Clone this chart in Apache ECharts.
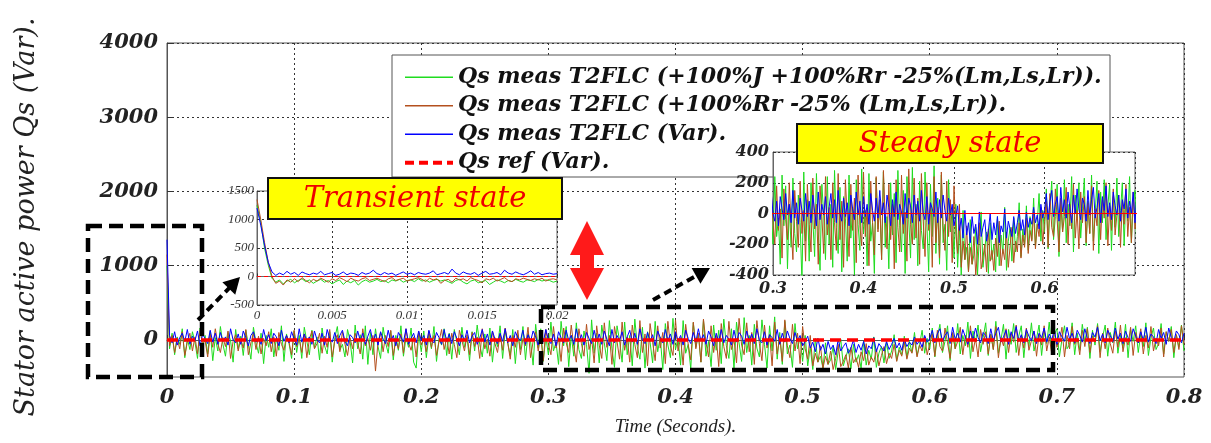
<!DOCTYPE html>
<html><head><meta charset="utf-8">
<script src="https://cdn.jsdelivr.net/npm/echarts@6/dist/echarts.min.js"></script>
<style>html,body{margin:0;padding:0;background:#fff}#c{width:1211px;height:443px}</style>
</head><body><div id="c"></div>
<script>
// ---------- DATA ----------
const MAIN_STEP = 0.002;   // seconds between samples of the main traces
const blueMain = [1350,
 60,-40,110,-70,30,90,-20,140,-60,50,-10,120,-80,70,20,-50,130,-30,90,-60,
 100,-20,40,-70,150,0,-40,80,-60,120,30,-80,60,110,-30,20,-60,140,-10,70,
 -50,90,40,-80,130,-20,60,-40,110,10,-70,150,-30,80,-10,40,-60,120,0,-40,
 90,-70,140,20,-30,100,-50,60,130,-20,-80,70,30,-40,120,-10,90,-60,50,140,
 -30,80,-70,110,10,-50,130,-20,60,-80,100,40,-30,150,-60,20,90,-40,120,-10,
 60,-70,130,0,-40,100,30,-60,140,-20,80,-50,110,20,-80,70,-10,130,-40,50,
 100,-60,20,140,-30,80,-70,120,10,-50,90,-20,150,-40,60,-80,110,30,-10,130,
 -60,70,-20,120,40,-70,100,-30,140,0,-50,80,-80,110,30,-40,130,-10,60,-60,
 150,-30,70,-70,100,20,-50,130,-20,80,-60,120,10,-80,140,-40,60,-10,110,-70,
 40,130,-30,90,-60,150,0,-50,100,-20,70,-80,120,30,-40,140,-10,80,-60,110,
 -20,60,-70,130,20,-50,100,-30,150,-10,70,-60,120,40,-80,90,-20,140,-40,60,
 10,-70,130,-30,100,50,-60,120,-10,80,-50,150,0,-40,110,-70,70,30,-20,140,
 -60,90,-30,120,20,-50,100,-10,60,-80,-20,50,-110,-30,-160,20,-140,-60,-190,-20,
 -130,-70,-200,10,-150,-90,-40,-180,-110,0,-170,-60,-140,-20,-190,-80,-120,30,-160,-50,
 -100,-150,-20,-130,-60,20,-110,-40,-140,10,-90,-30,-70,40,-60,-10,-100,60,-30,20,
 130,-40,80,150,-20,60,110,-50,170,10,90,-30,140,40,-60,120,0,160,30,-40,
 100,60,-50,150,-10,90,170,-30,40,130,-60,110,20,180,-20,70,-40,140,50,-10,
 120,-50,90,30,160,-30,80,0,140,-60,110,40,-20,170,10,90,-40,130,60,-30,
 150,20,-50,100,40,170,-10,80,-40,130,60,-30,160,10,90,-50,120,30,-20,150,
 50,-40,110,0,170,-30,80,40,-50,140,20,100,-60,160,30,-20,120,70,-40,90];
const brownMain = [1150,
 -80,60,-170,20,-120,110,-210,-30,90,-150,40,-190,130,-60,-10,-230,80,-100,150,-50,
 -170,30,-90,120,-250,-20,70,-150,10,-110,140,-200,-40,90,-130,50,-190,20,-80,110,
 -160,40,-220,100,-60,-140,60,-30,-200,130,-90,20,-170,80,-240,10,120,-120,-50,90,
 -180,50,-100,140,-230,-10,70,-160,110,-60,-210,30,-120,90,-40,-190,150,-80,20,-140,
 60,-420,-30,100,-160,60,-90,130,-210,0,-120,80,-180,150,-40,-140,40,-230,110,-70,
 20,-160,120,-100,60,-210,-20,140,-130,30,-190,90,-60,-240,130,-10,-150,70,-200,100,
 -90,40,-250,150,-120,10,-220,120,-50,-170,80,-140,160,-30,-260,60,-100,130,-200,20,
 -80,170,-240,-20,110,-150,50,-280,140,-60,-200,180,-110,30,-290,160,-40,-170,200,-90,
 -300,150,-50,-220,210,-130,20,-310,190,-70,-250,230,-100,60,-330,180,-20,-260,240,-140,
 40,-300,200,-60,-240,260,-170,80,-350,220,-30,-280,190,-110,100,-320,250,-80,-210,270,
 -150,30,-340,210,-60,-270,240,-120,90,-300,280,-40,-230,190,-170,60,-360,220,-90,-250,
 250,-130,10,-310,290,-70,-200,230,-160,100,-330,260,-50,-280,200,-110,70,-350,240,-190,
 40,-290,270,-80,-240,210,-150,90,-320,180,-120,-260,60,-350,-180,-300,-80,-380,-220,-330,
 -150,-400,-250,-60,-360,-290,-200,-380,-100,-310,-240,-370,-160,-280,-50,-340,-230,-300,-120,-350,
 -210,-90,-320,-180,-250,-60,-290,-140,-220,-30,-260,-110,-180,10,-230,-70,-150,40,-200,-50,
 80,-220,130,-90,-150,160,-40,-250,100,-120,-20,170,-200,60,-100,190,-160,20,-230,140,
 -60,110,-190,70,-130,180,-240,30,-80,150,-170,90,-30,200,-210,50,-110,160,-140,-10,
 120,-220,80,-70,190,-150,40,-190,140,-100,-20,170,-230,60,-120,180,-60,20,-200,130,
 -90,150,-170,50,-30,190,-240,90,-120,160,-50,-180,120,-100,200,-160,30,-70,170,-210,
 100,-40,150,-190,60,-110,180,-150,20,-80,160,-230,110,-20,140,-170,70,-130,190,-60];
const greenMain = [1000,
 -120,90,-200,40,-60,150,-240,20,-130,110,-30,-250,160,-90,60,-190,120,-280,30,-150,
 180,-60,-220,100,-10,-300,140,-120,50,-210,130,-70,-260,170,-40,-180,90,-320,60,-100,
 150,-230,20,-140,190,-290,80,-50,-250,120,-170,60,-250,170,-20,-200,130,-110,40,-270,
 160,-80,-190,110,-300,30,180,-140,-60,-230,140,-10,-310,200,-120,70,-260,190,-330,100,
 -200,150,-90,-250,170,-40,-180,120,-270,60,-140,190,-220,30,-100,160,-300,-380,80,-160,
 120,-240,60,-120,180,-290,20,-70,150,-210,90,-260,140,-30,-200,170,-100,40,-280,110,
 -150,200,-60,-230,80,-180,160,-300,30,-90,190,-250,110,-40,-210,140,-320,70,-130,180,
 -270,90,-20,-340,210,-110,150,-290,40,-200,240,-150,-30,-330,250,-80,180,-360,60,-220,
 230,-130,-250,120,-60,-450,270,-180,90,-310,200,-40,-280,260,-120,-370,190,-10,-300,240,
 -200,60,-350,280,-90,-260,170,-380,110,-30,-310,250,-160,40,-400,220,-70,-240,290,-130,
 20,-340,260,-180,-60,-390,230,-100,80,-300,270,-220,-20,-360,200,-140,130,-320,280,-80,
 -250,150,-390,240,-40,-290,300,-170,60,-340,210,-110,-230,270,-60,-380,190,-150,310,-260,
 100,-330,250,-190,-70,-370,220,-120,30,-290,60,-350,-100,-400,20,-300,-220,-380,-40,-330,
 -270,-90,-400,-150,10,-350,-230,-120,-390,-60,-300,-200,-380,-20,-340,-140,-260,40,-370,-180,
 -90,-310,-30,-250,-150,70,-280,-100,-200,50,-240,-20,-170,100,-210,-60,130,-180,20,-120,
 160,-230,40,210,-170,-20,190,-280,90,-120,220,-190,60,-80,240,-250,120,-30,200,-160,
 30,230,-210,80,-130,250,-180,0,210,-260,140,-60,220,-170,50,190,-240,110,-90,230,
 -150,20,200,-210,120,-50,240,-190,70,150,-230,10,190,-120,-60,230,-200,90,-140,210,
 -30,170,-250,130,-70,220,-160,40,200,-220,100,-40,240,-180,60,-110,210,-240,140,-20,
 190,-170,80,-90,230,-210,30,160,-130,-50,220,-190,110,-20,180,-240,70,-100,200,-150];
const refTime  = [0, 0.8];
const refValue = [0, 0];

const TR_STEP = 0.00025;   // seconds between samples of the transient zoom
const blueTr = [1200,900,550,250,80,20,60,30,90,40,
 70,20,80,50,30,60,40,90,30,50,
 70,20,40,80,30,60,50,20,70,40,
 60,110,50,30,70,40,60,20,50,80,
 40,60,30,70,50,40,60,100,30,50,
 70,40,130,60,30,80,50,40,70,20,
 60,90,40,50,70,30,110,60,40,80,
 50,30,60,100,40,70,30,50,60,40,50];
const brownTr = [1350,1000,600,250,0,-120,-80,-150,-60,-100,
 -40,-90,-20,-70,-110,-50,-80,-30,-60,-100,
 -40,-70,-20,-50,-90,-30,-60,-80,-40,-20,
 -70,-50,-30,-60,-90,-40,-20,-70,-50,-30,
 -80,-60,-40,-20,-50,-90,-30,-60,-40,-120,
 -70,-50,-100,-30,-60,-40,-80,-20,-50,-70,
 -110,-40,-60,-30,-80,-50,-20,-70,-90,-40,
 -60,-30,-50,-70,-40,-60,-30,-80,-50,-40,-60];
const greenTr = [1250,950,500,200,-30,-100,-60,-130,-80,-50,
 -110,-70,-40,-90,-60,-120,-80,-50,-100,-70,
 -130,-90,-60,-140,-80,-110,-70,-150,-90,-60,
 -100,-80,-50,-90,-70,-110,-60,-80,-50,-100,
 -70,-60,-90,-40,-80,-60,-100,-70,-50,-80,
 -60,-90,-120,-70,-50,-100,-130,-80,-60,-110,
 -90,-70,-140,-100,-60,-80,-110,-70,-90,-50,
 -80,-100,-60,-70,-90,-50,-80,-60,-70,-100,-80];

const mainYTicks   = [0, 1000, 2000, 3000, 4000];
const steadyXTicks = [0.3, 0.4, 0.5, 0.6, 0.7];
const steadyXLabels = [0.3, 0.4, 0.5, 0.6];
const seriesNames = [
  'Qs meas T2FLC (+100%J +100%Rr -25%(Lm,Ls,Lr)).',
  'Qs meas T2FLC (+100%Rr -25% (Lm,Ls,Lr)).',
  'Qs meas T2FLC (Var).',
  'Qs ref (Var).'
];
const colors = ['#1fdc1f', '#b4501e', '#0000ff', '#ff0000'];

// ---------- BUILD ----------
function pairs(vals, step){ return vals.map((v,i)=>[+(i*step).toFixed(6), v]); }
const refPairs = refTime.map((t,i)=>[t, refValue[i]]);
const BI = {fontFamily:'DejaVu Serif', fontStyle:'italic', fontWeight:'bold'};
const fmt = v => String(+(+v).toFixed(4));

const dotted = {show:true, lineStyle:{color:'#333', type:[2,3], width:1}};

function line(name, data, color, xi, z, extra){
  return Object.assign({type:'line', name, data, xAxisIndex:xi, yAxisIndex:xi,
    showSymbol:false, symbol:'none', animation:false, z,
    lineStyle:{color, width:1}, itemStyle:{color}}, extra||{});
}

const series = [];
const mains = [greenMain, brownMain, blueMain];
const trs = [greenTr, brownTr, blueTr];
for (let k=0;k<3;k++) series.push(line(seriesNames[k], pairs(mains[k], MAIN_STEP), colors[k], 0, 2));
series.push(line(seriesNames[3], refPairs, colors[3], 0, 3, {lineStyle:{color:colors[3], width:3.5, type:[11,6]}}));
for (let k=0;k<3;k++) series.push(line(seriesNames[k], pairs(trs[k], TR_STEP), colors[k], 1, 7));
series.push(line(seriesNames[3], refPairs, colors[3], 1, 7, {lineStyle:{color:colors[3], width:1, type:[4,3]}}));
for (let k=0;k<3;k++) series.push(line(seriesNames[k], pairs(mains[k], MAIN_STEP), colors[k], 2, 7));
series.push(line(seriesNames[3], refPairs, colors[3], 2, 7, {lineStyle:{color:colors[3], width:1.2}}));

const legendData = seriesNames.map((n,k)=>({
  name:n,
  lineStyle: k===3 ? {color:colors[3], width:4, type:[9,5]} : {color:colors[k], width:1.6}
}));

const chart = echarts.init(document.getElementById('c'));

function arrowHead(x1,y1,x2,y2,len,half){
  const dx=x2-x1, dy=y2-y1, L=Math.hypot(dx,dy), ux=dx/L, uy=dy/L;
  const bx=x2-ux*len, by=y2-uy*len;
  return [[x2,y2],[bx-uy*half,by+ux*half],[bx+uy*half,by-ux*half]];
}
function dashedArrow(x1,y1,x2,y2){
  const dx=x2-x1, dy=y2-y1, L=Math.hypot(dx,dy);
  const ex=x2-dx/L*12, ey=y2-dy/L*12;
  return [
    {type:'line', z:10, shape:{x1,y1,x2:ex,y2:ey}, style:{stroke:'#000', lineWidth:4, lineDash:[8,5]}},
    {type:'polygon', z:10, shape:{points:arrowHead(x1,y1,x2,y2,16,9)}, style:{fill:'#000'}}
  ];
}

chart.setOption({
  animation:false,
  backgroundColor:'#fff',
  grid:[
    {left:167, top:43, width:1017, height:334, show:true, borderColor:'#555', borderWidth:1, backgroundColor:'transparent'},
    {left:257, top:191, width:300, height:114, show:true, backgroundColor:'#fff', borderColor:'#666', borderWidth:1, z:5},
    {left:773, top:152, width:362, height:123, show:true, backgroundColor:'#fff', borderColor:'#666', borderWidth:1, z:5}
  ],
  xAxis:[
    {gridIndex:0, type:'value', min:0, max:0.8, interval:0.1,
     axisLine:{show:true, lineStyle:{color:'#555'}},
     axisTick:{inside:true, length:5, lineStyle:{color:'#333'}},
     axisLabel:Object.assign({fontSize:21, color:'#222', margin:10, formatter:fmt}, BI),
     splitLine:dotted,
     name:'Time (Seconds).', nameLocation:'middle', nameGap:40,
     nameTextStyle:{fontFamily:'Liberation Serif', fontStyle:'italic', fontSize:19, color:'#222'}},
    {gridIndex:1, type:'value', min:0, max:0.02, interval:0.005, z:6,
     axisLine:{show:true, lineStyle:{color:'#666'}},
     axisTick:{inside:true, length:3, lineStyle:{color:'#333'}},
     axisLabel:{fontFamily:'Liberation Serif', fontStyle:'italic', fontSize:13, color:'#333', margin:4, formatter:fmt},
     splitLine:dotted},
    {gridIndex:2, type:'value', min:0.3, max:0.7, z:6,
     axisLine:{show:true, lineStyle:{color:'#666'}},
     axisTick:{inside:true, length:3, customValues:steadyXTicks, lineStyle:{color:'#333'}},
     axisLabel:Object.assign({fontSize:16, color:'#222', margin:6, formatter:fmt, customValues:steadyXLabels}, BI),
     splitLine:dotted}
  ],
  yAxis:[
    {gridIndex:0, type:'value', min:-500, max:4000,
     axisLine:{show:true, lineStyle:{color:'#555'}},
     axisTick:{inside:true, length:5, customValues:mainYTicks, lineStyle:{color:'#333'}},
     axisLabel:Object.assign({fontSize:21, color:'#222', margin:9, customValues:mainYTicks, formatter:fmt}, BI),
     splitLine:dotted,
     name:'Stator active power Qs (Var).', nameLocation:'middle', nameGap:127, nameRotate:90,
     nameTextStyle:{fontFamily:'DejaVu Serif', fontStyle:'italic', fontSize:27, color:'#222', padding:[0,14,0,0]}},
    {gridIndex:1, type:'value', min:-500, max:1500, interval:500, z:6,
     axisLine:{show:true, lineStyle:{color:'#666'}},
     axisTick:{inside:true, length:3, lineStyle:{color:'#333'}},
     axisLabel:{fontFamily:'Liberation Serif', fontStyle:'italic', fontSize:13, color:'#333', margin:3, formatter:fmt},
     splitLine:dotted},
    {gridIndex:2, type:'value', min:-400, max:400, interval:200, z:6,
     axisLine:{show:true, lineStyle:{color:'#666'}},
     axisTick:{inside:true, length:3, lineStyle:{color:'#333'}},
     axisLabel:Object.assign({fontSize:16, color:'#222', margin:4, formatter:fmt}, BI),
     splitLine:dotted}
  ],
  legend:{
    data:legendData, orient:'vertical', left:398, top:58, z:8,
    itemWidth:48, itemHeight:14, itemGap:0, selectedMode:false,
    itemStyle:{opacity:0},
    textStyle:Object.assign({fontSize:22, color:'#111', lineHeight:28.5}, BI)
  },
  graphic:[
    {type:'rect', z:1, shape:{x:392, y:55, width:718, height:122}, style:{fill:'#fff', stroke:'#555', lineWidth:1}},
    {type:'rect', z:10, shape:{x:268, y:178, width:294, height:41}, style:{fill:'#ffff00', stroke:'#111', lineWidth:2}},
    {type:'text', z:11, style:{x:415, y:199, text:'Transient state', textAlign:'center', textVerticalAlign:'middle',
      font:'italic 29px "DejaVu Serif"', fill:'#ee0000'}},
    {type:'rect', z:10, shape:{x:797, y:124, width:306, height:39}, style:{fill:'#ffff00', stroke:'#111', lineWidth:2}},
    {type:'text', z:11, style:{x:950, y:144, text:'Steady state', textAlign:'center', textVerticalAlign:'middle',
      font:'italic 29px "DejaVu Serif"', fill:'#ee0000'}},
    {type:'polygon', z:10, shape:{points:[[587,221],[604,255],[594,255],[594,268],[604,268],[587,300],[570,268],[580,268],[580,255],[570,255]]},
      style:{fill:'#ff1a1a'}},
    {type:'rect', z:10, shape:{x:88, y:226, width:114, height:151}, style:{fill:null, stroke:'#000', lineWidth:4.5, lineDash:[14,7]}},
    {type:'rect', z:10, shape:{x:541, y:307, width:512, height:63}, style:{fill:null, stroke:'#000', lineWidth:4.5, lineDash:[14,7]}}
  ].concat(dashedArrow(198,320,240,277), dashedArrow(653,300,710,268)),
  series
});
</script>
</body></html>
